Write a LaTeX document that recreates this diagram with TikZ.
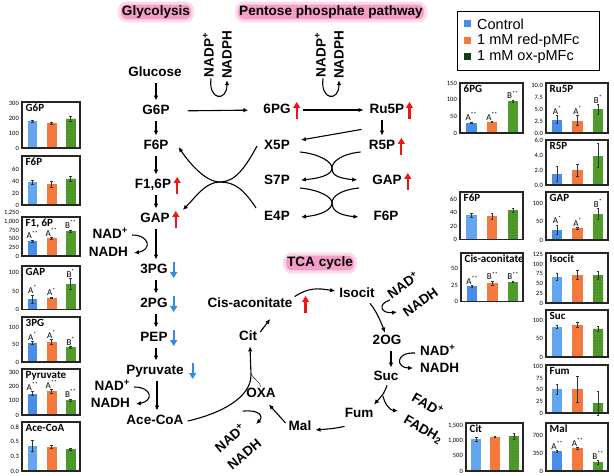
\documentclass[tikz,border=0pt]{standalone}
\usepackage{fontspec}
\setmainfont{Liberation Sans}
\newfontfamily\calfont{Carlito}
\usetikzlibrary{arrows.meta,calc,patterns}
\definecolor{cblue}{RGB}{72,142,232}
\definecolor{lblue}{RGB}{100,165,240}
\definecolor{corange}{RGB}{243,122,60}
\definecolor{cgreen}{RGB}{80,156,42}
\definecolor{cdkgreen}{RGB}{22,60,22}
\definecolor{upred}{RGB}{240,20,20}
\definecolor{dnblue}{RGB}{50,140,230}
\definecolor{glowA}{RGB}{252,218,236}
\definecolor{glowB}{RGB}{244,158,200}
\newcommand\chart[5]{\pgfmathsetmacro\cxl{#1}\pgfmathsetmacro\cyt{#2}\pgfmathsetmacro\cxr{#3}\pgfmathsetmacro\cyb{#4}\pgfmathsetmacro\csc{#5}}
\newcommand\cticks[1]{\foreach \v/\l in {#1} {\node[tickl] at (\cxl-3,\cyb-\v*\csc) {\l};}}
\newcommand\ctitle[1]{\node[ctit] at (\cxl+3,\cyt+1.5) {#1};}
\newcommand\cframe{\draw[frame] (\cxl,\cyt) rectangle (\cxr,\cyb);}
\newcommand\cbar[5]{%
 \pgfmathsetmacro\cc{\cxl+#1*(\cxr-\cxl)}%
 \pgfmathsetmacro\hw{0.085*(\cxr-\cxl)}%
 \pgfmathsetmacro\yt{\cyb-(#3)*\csc}%
 \pgfmathsetmacro\ye{\cyb-(#3+#4)*\csc}%
 \pgfmathsetmacro\yl{\cyb-(#3-#4)*\csc}%
 \fill[#2] (\cc-\hw,\cyb) rectangle (\cc+\hw,\yt);
 \draw[errb] (\cc,\ye) -- (\cc,\yl) (\cc-1.3,\ye) -- (\cc+1.3,\ye) (\cc-1.3,\yl) -- (\cc+1.3,\yl);
 \node[lett] at (\cc,\ye) {#5};}
\newcommand\bars[3]{\cbar{0.18}{cblue}#1\cbar{0.51}{corange}#2\cbar{0.84}{cgreen}#3}
\newcommand\barsd[3]{\cbar{0.18}{lblue}#1\cbar{0.51}{corange}#2\cbar{0.84}{dgreen}#3}
\newcommand\supx[1]{\textsuperscript{#1}}
\begin{document}
\begin{tikzpicture}[x=1pt,y=-1pt,
  met/.style={font=\bfseries\fontsize{13.5}{13.5}\selectfont, inner sep=1pt, text height=9.8pt, text depth=2.6pt},
  ttl/.style={font=\bfseries\fontsize{13.6}{13.6}\selectfont, inner sep=2.5pt, fill=glowB, draw=glowA, line width=3pt, rounded corners=7pt},
  arr/.style={-{Latex[length=5pt,width=4.5pt]}, line width=1.1pt},
  redup/.style={-{Triangle[length=6pt,width=7pt]}, line width=2.2pt, upred},
  bluedn/.style={-{Triangle[length=6pt,width=7pt]}, line width=2.2pt, dnblue},
  tickl/.style={font=\calfont\fontsize{6.5}{6.5}\selectfont, anchor=east, inner sep=0pt},
  ctit/.style={font=\calfont\bfseries\fontsize{11}{11}\selectfont, anchor=north west, inner sep=0.5pt},
  lett/.style={font=\calfont\fontsize{9}{9}\selectfont, anchor=south, inner sep=1pt},
  frame/.style={line width=1.3pt, draw=black!85},
  errb/.style={line width=0.5pt, black!80},
  dgreen/.style={cgreen, postaction={pattern=dots, pattern color=cgreen!55!black}},
  leg/.style={font=\fontsize{14.5}{14.5}\selectfont, anchor=west, inner sep=0pt}]
\useasboundingbox[fill=white] (0,0) rectangle (614,476);

% titles
\node[ttl] (tglyc) at (156,12) {Glycolysis};
\node[ttl] (tppp) at (331,12) {Pentose phosphate pathway};
\node[ttl] (ttca) at (320,263) {TCA cycle};

% glycolysis
\node[met] (glc) at (155,73) {Glucose};
\node[met] (g6p) at (156,111) {G6P};
\node[met] (f6p) at (156,146) {F6P};
\node[met] (f16p) at (153,185) {F1,6P};
\node[met] (gap) at (155,219) {GAP};
\node[met] (pg3) at (154,270) {3PG};
\node[met] (pg2) at (154,304) {2PG};
\node[met] (pep) at (154,338) {PEP};
\node[met] (pyr) at (155,371) {Pyruvate};
\node[met] (acoa) at (155,421) {Ace-CoA};
\node[met,anchor=east] (nad1) at (129,235) {NAD\supx{+}};
\node[met,anchor=east] (nadh1) at (129,253) {NADH};
\node[met,anchor=east] (nad2) at (131,387) {NAD\supx{+}};
\node[met,anchor=east] (nadh2) at (131,404) {NADH};

\begin{scope}[shorten <=3pt, shorten >=3pt]
\draw[arr] (glc.south -| 156,0) -- (g6p.north -| 156,0);
\draw[arr] (g6p.south -| 156,0) -- (f6p.north -| 156,0);
\draw[arr] (f6p.south -| 156,0) -- (f16p.north -| 156,0);
\draw[arr] (f16p.south -| 156,0) -- (gap.north -| 156,0);
\draw[arr] (gap.south -| 156,0) -- (pg3.north -| 156,0);
\draw[arr] (pg3.south -| 156,0) -- (pg2.north -| 156,0);
\draw[arr] (pg2.south -| 156,0) -- (pep.north -| 156,0);
\draw[arr] (pep.south -| 156,0) -- (pyr.north -| 156,0);
\draw[arr] (pyr.south -| 157,0) -- (acoa.north -| 157,0);
\end{scope}
\draw[arr] ([xshift=3pt]nad1.east) .. controls +(18,0) and +(18,-3) .. ([xshift=5pt]nadh1.east);
\draw[arr] ([xshift=3pt]nad2.east) .. controls +(18,0) and +(18,-3) .. ([xshift=5pt]nadh2.east);

\draw[redup] ($(f16p.east)+(5,9)$) -- ++(0,-17);
\draw[redup] ($(gap.east)+(5,9)$) -- ++(0,-17);
\draw[bluedn] ($(pg3.east)+(5,-8)$) -- ++(0,16);
\draw[bluedn] ($(pg2.east)+(5,-8)$) -- ++(0,16);
\draw[bluedn] ($(pep.east)+(5,-8)$) -- ++(0,16);
\draw[bluedn] ($(pyr.east)+(8,-8)$) -- ++(0,16);

% pentose phosphate
\node[met] (pg6) at (277,110) {6PG};
\node[met] (ru5p) at (387,110) {Ru5P};
\node[met] (x5p) at (277,146) {X5P};
\node[met] (r5p) at (382,146) {R5P};
\node[met] (s7p) at (277,181) {S7P};
\node[met] (gap2) at (387,181) {GAP};
\node[met] (e4p) at (277,217) {E4P};
\node[met] (f6p2) at (386,217) {F6P};
\node[met,rotate=90] (nadp1) at (210,55) {NADP\supx{+}};
\node[met,rotate=90] (nadph1) at (228,55) {NADPH};
\node[met,rotate=90] (nadp2) at (322,55) {NADP\supx{+}};
\node[met,rotate=90] (nadph2) at (340,55) {NADPH};

\draw[redup] ($(pg6.east)+(5,9)$) -- ++(0,-17);
\draw[redup] ($(ru5p.east)+(4,9)$) -- ++(0,-17);
\draw[redup] ($(r5p.east)+(5,9)$) -- ++(0,-17);
\draw[redup] ($(gap2.east)+(5,9)$) -- ++(0,-17);

\draw[arr, shorten <=17pt, shorten >=14pt] (g6p.east) -- (pg6.west);
\draw[arr, shorten <=11pt, shorten >=5pt] (pg6.east) -- (ru5p.west);
\draw[arr] ([xshift=1pt]nadp1.west) .. controls +(-3,22) and +(0,22) .. ([xshift=-1pt]nadph1.west);
\draw[arr] ([xshift=1pt]nadp2.west) .. controls +(-3,22) and +(0,22) .. ([xshift=-1pt]nadph2.west);
\draw[arr, shorten <=3pt, shorten >=3pt] (ru5p.south -| r5p) -- (r5p.north);
\draw[arr] ($(ru5p.south west)+(-7,12)$) -- ($(x5p.east)+(10,-6)$);

\draw[arr] ($(x5p.east)+(9,6)$) .. controls +(20,2) and +(0,-6) .. (332,168) .. controls +(0,6) and +(22,-2) .. ($(s7p.east)+(10,-1)$);
\draw[arr] ($(r5p.west)+(-7,6)$) .. controls +(-20,2) and +(0,-6) .. (332,168) .. controls +(0,6) and +(-22,-2) .. ($(gap2.west)+(-14,-1)$);
\draw[arr] ($(s7p.east)+(9,7)$) .. controls +(20,2) and +(0,-6) .. (332,203) .. controls +(0,6) and +(22,-2) .. ($(e4p.east)+(10,0)$);
\draw[arr] ($(gap2.west)+(-12,7)$) .. controls +(-20,2) and +(0,-6) .. (332,203) .. controls +(0,6) and +(-22,-2) .. ($(f6p2.west)+(-14,0)$);

\draw[arr] ($(x5p.west)+(-6,0)$) .. controls +(-12,22) and +(15,0) .. (220,182) .. controls +(-15,0) and +(10,15) .. ($(f6p.east)+(9,1)$);
\draw[arr] ($(e4p.west)+(-7,-9)$) .. controls +(-12,-18) and +(15,0) .. (220,182) .. controls +(-15,0) and +(12,-12) .. ($(gap.east)+(12,-9)$);

% TCA
\node[met] (cis) at (250,304) {Cis-aconitate};
\node[met] (isocit) at (357,294) {Isocit};
\node[met] (cit) at (248,337) {Cit};
\node[met] (og) at (387,341) {2OG};
\node[met] (suc) at (386,377) {Suc};
\node[met] (fum) at (359,414) {Fum};
\node[met] (mal) at (300,427) {Mal};
\node[met] (oxa) at (261,394) {OXA};
\node[met,rotate=35] (nad3) at (404,286) {NAD\supx{+}};
\node[met,rotate=35] (nadh3) at (421,303) {NADH};
\node[met,anchor=west] (nad4) at (419,352) {NAD\supx{+}};
\node[met,anchor=west] (nadh4) at (419,369) {NADH};
\node[met,rotate=-30] (fad) at (427,406) {FAD\supx{+}};
\node[met,rotate=-30] (fadh) at (423,430) {FADH\textsubscript{2}};
\node[met,rotate=40] (nad5) at (231,439) {NAD\supx{+}};
\node[met,rotate=40] (nadh5) at (245,455) {NADH};

\draw[redup] ($(cis.east)+(12,9)$) -- ++(0,-17);
\draw[arr] ($(cis.north east)+(1,0)$) .. controls +(14,-9) and +(-18,-3) .. ($(isocit.west)+(-3,-3)$);
\draw[arr] ($(cit.east)+(2,-5)$) -- ($(cit.east)+(12,-18)$);
\draw[arr] ($(acoa.east)+(3,0)$) .. controls +(35,-8) and +(0,22) .. (251,375) -- ($(cit.south)+(2,2)$);
\draw (oxa.north) .. controls +(-1,-5) and +(0,4) .. (251,373);
\draw[arr] ($(mal.west)+(-2,-4)$) -- ($(oxa.south east)+(-8,3)$);
\draw[arr] ($(nad5.north east)+(2,-10)$) .. controls +(16,-2) and +(8,-8) .. ($(nadh5.north east)+(0,-12)$);
\draw[arr] ($(fum.south west)+(1,5)$) .. controls +(-10,2) .. ($(mal.east)+(3,3)$);
\draw[arr] ($(isocit.south east)+(-6,2)$) .. controls +(6,6) and +(-3,-8) .. ($(og.north)+(-2,-1)$);
\draw[arr] (390,300) .. controls (377,304) and (381,314) .. (397,312);
\draw[arr, shorten <=3pt, shorten >=2pt] (og.south -| 391,0) -- (suc.north -| 391,0);
\draw[arr] ($(nad4.west)+(-4,1)$) .. controls +(-20,-1) and +(-17,0) .. ($(nadh4.west)+(-6,-1)$);
\draw[arr] ($(suc.south)+(1,1)$) .. controls +(-3,8) .. ($(fum.north)+(15,-2)$);
\draw[arr] (383,396) .. controls (385,405) and (390,410) .. (398,411);

% legend
\draw[line width=0.8pt] (457,11) rectangle (599,70);
\fill[cblue] (463.5,20.5) rectangle +(7,7);
\fill[corange] (463.5,37) rectangle +(7,7);
\fill[cdkgreen] (463.5,53.5) rectangle +(7,7);
\node[leg] (lg1) at (477,24) {Control};
\node[leg] (lg2) at (477,41) {1 mM red-pMFc};
\node[leg] (lg3) at (477,57) {1 mM ox-pMFc};

% left charts
\chart{22}{102}{80}{148}{0.15}\cticks{0/0,100/100,200/200,300/300}\ctitle{G6P}
\barsd{{178}{5}{}}{{165}{8}{}}{{195}{15}{}}\cframe
\chart{22}{156}{80}{205}{0.6}\cticks{0/0,20/20,40/40,60/60}\ctitle{F6P}
\barsd{{38}{4}{}}{{35}{5}{}}{{44}{4}{}}\cframe
\chart{22}{217}{80}{256}{0.0343}\cticks{0/0,250/250,500/500,750/750,1000/{1,000},1250/{1,250}}\ctitle{F1, 6P}
\bars{{437}{25}{A\supx{**}}}{{515}{30}{A\supx{**}}}{{730}{35}{B\supx{**}}}\cframe
\chart{22}{266}{80}{309.5}{0.366}\cticks{0/0,50/50,100/100}\ctitle{GAP}
\bars{{28}{12}{A\supx{*}}}{{32}{2}{A\supx{*}}}{{70}{15}{B\supx{*}}}\cframe
\chart{22}{317}{80}{362}{0.35}\cticks{0/0,50/50,100/100}\ctitle{3PG}
\bars{{55}{4}{A\supx{*}}}{{58}{7}{A\supx{*}}}{{42}{2}{B\supx{*}}}\cframe
\chart{22}{369}{80}{415}{0.1427}\cticks{0/0,100/100,200/200,300/300}\ctitle{Pyruvate}
\bars{{150}{15}{A\supx{**}}}{{165}{12}{A\supx{**}}}{{105}{8}{B\supx{**}}}\cframe
\chart{22}{422}{80}{471}{58.7}\cticks{0/0.0,0.25/0.3,0.5/0.5,0.75/0.8}\ctitle{Ace-CoA}
\barsd{{0.43}{0.1}{}}{{0.41}{0.03}{}}{{0.37}{0.02}{}}\cframe

% right charts col A
\chart{460}{83}{523}{133}{0.333}\cticks{0/0,50/50,100/100,150/150}\ctitle{6PG}
\bars{{31}{2}{A\supx{**}}}{{33}{2}{A\supx{**}}}{{95}{4}{B\supx{**}}}\cframe
\chart{460}{192}{523}{239.5}{0.667}\cticks{0/0,20/20,40/40,60/60}\ctitle{F6P}
\barsd{{37}{3}{}}{{35}{4}{}}{{44}{3}{}}\cframe
\chart{461}{253}{523}{301.5}{0.66}\cticks{0/0,25/25,50/50}\ctitle{Cis-aconitate}
\bars{{23}{1}{A\supx{**}}}{{28}{3}{B\supx{**}}}{{30}{1}{B\supx{**}}}\cframe
\chart{466}{423}{523}{471}{0.0303}\cticks{0/0,500/500,1000/{1,000},1500/{1,500}}\ctitle{Cit}
\barsd{{1050}{60}{}}{{1120}{15}{}}{{1150}{110}{}}\cframe

% right charts col B
\chart{546}{83}{608}{133}{4.8}\cticks{0/0.0,2.5/2.5,5/5.0,7.5/7.5,10/10.0}\ctitle{Ru5P}
\bars{{2.8}{0.8}{A\supx{*}}}{{2.6}{1.0}{A\supx{*}}}{{4.9}{1.0}{B\supx{*}}}\cframe
\chart{546}{140}{608}{185}{7.5}\cticks{0/0.0,2/2.0,4/4.0,6/6.0}\ctitle{R5P}
\bars{{1.5}{1.0}{}}{{2.0}{0.8}{}}{{3.9}{1.6}{}}\cframe
\chart{546}{192}{608}{240}{0.37}\cticks{0/0,50/50,100/100}\ctitle{GAP}
\bars{{28}{12}{A\supx{*}}}{{32}{2}{A\supx{*}}}{{70}{15}{B\supx{*}}}\cframe
\chart{546}{253}{608}{303}{0.39}\cticks{0/0,25/25,50/50,75/75,100/100,125/125}\ctitle{Isocit}
\barsd{{67}{8}{}}{{72}{12}{}}{{71}{11}{}}\cframe
\chart{546}{310}{608}{357}{0.37}\cticks{0/0,50/50,100/100}\ctitle{Suc}
\barsd{{82}{4}{}}{{87}{6}{}}{{77}{7}{}}\cframe
\chart{546}{365}{608}{413}{0.467}\cticks{0/0,25/25,50/50,75/75,100/100}\ctitle{Fum}
\barsd{{51}{10}{}}{{51}{28}{}}{{21}{26}{}}\cframe
\chart{546}{423}{608}{471}{0.0514}\cticks{0/0,350/350,700/700}\ctitle{Mal}
\bars{{380}{15}{A\supx{**}}}{{440}{20}{A\supx{**}}}{{170}{40}{B\supx{**}}}\cframe
\end{tikzpicture}
\end{document}
